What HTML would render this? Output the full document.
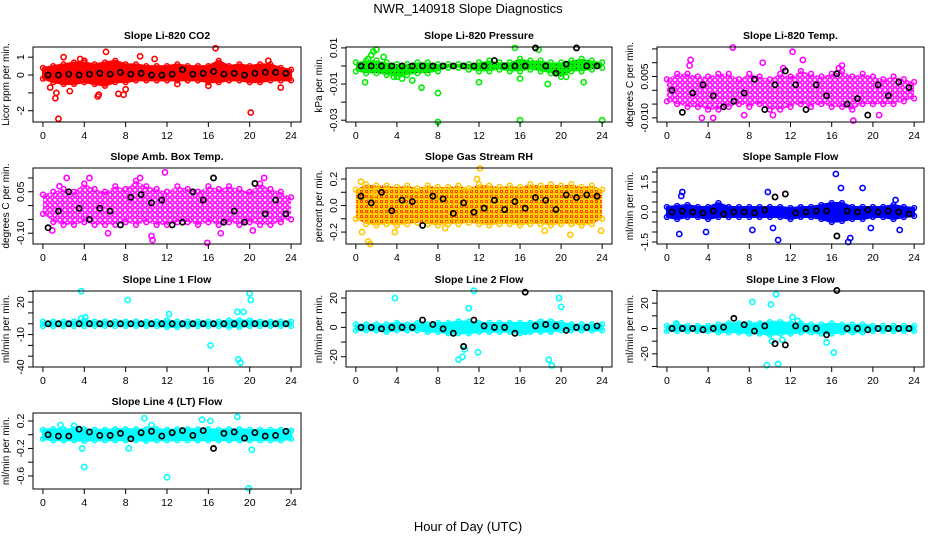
<!DOCTYPE html>
<html><head><meta charset="utf-8"><style>
html,body{margin:0;padding:0;background:#fff;}
svg{display:block;font-family:"Liberation Sans",sans-serif;}
</style></head><body>
<svg id="chart" width="936" height="540" viewBox="0 0 936 540">
<defs>
<pattern id="rhpat" width="5" height="5" patternUnits="userSpaceOnUse"><rect width="5" height="5" fill="#ffe000"/><circle cx="1.5" cy="1.5" r="1.2" fill="none" stroke="#ff3000" stroke-width="1"/><circle cx="4" cy="4" r="1.2" fill="none" stroke="#ffb000" stroke-width="1"/></pattern>
<pattern id="magpat" width="5" height="5" patternUnits="userSpaceOnUse"><rect width="5" height="5" fill="#fff"/><circle cx="2.5" cy="2.5" r="1.7" fill="none" stroke="#ff00ff" stroke-width="1.6"/></pattern>
<pattern id="grnpat" width="4" height="4" patternUnits="userSpaceOnUse"><rect width="4" height="4" fill="#00ee00"/><rect width="1" height="1" fill="#004400"/></pattern>
</defs>
<text x="468" y="13" font-size="13" text-anchor="middle">NWR_140918  Slope Diagnostics</text>
<text x="468" y="531" font-size="13" text-anchor="middle">Hour of Day (UTC)</text>
</svg>
<script>
const xTicks=[0,4,8,12,16,20,24];
const bandHours=[0,1,2,3,4,5,6,7,8,9,10,11,12,13,14,15,16,17,18,19,20,21,22,23,24];
const blackHours=[0.5,1.5,2.5,3.5,4.5,5.5,6.5,7.5,8.5,9.5,10.5,11.5,12.5,13.5,14.5,15.5,16.5,17.5,18.5,19.5,20.5,21.5,22.5,23.5];

const titles=["Slope Li-820 CO2","Slope Li-820 Pressure","Slope Li-820 Temp.","Slope Amb. Box Temp.","Slope Gas Stream RH","Slope Sample Flow","Slope Line 1 Flow","Slope Line 2 Flow","Slope Line 3 Flow","Slope Line 4 (LT) Flow"];
const yTitles=["Licor ppm per min.","kPa per min.","degrees C per min.","degrees C per min.","percent per min.","ml/min per min.","ml/min per min.","ml/min per min.","ml/min per min.","ml/min per min."];
const yDomains=[[-2.63,1.57],[-0.031,0.0105],[-0.0115,0.0157],[-0.139,0.136],[-0.29,0.283],[-1.6,2.2],[-40,30.3],[-27,24.8],[-30.4,29.6],[-0.79,0.316]];
const yTickVals=[[-2,-1,0,1],[-0.03,-0.02,-0.01,0,0.01],[-0.01,-0.005,0,0.005,0.01,0.015],[-0.1,-0.05,0,0.05,0.1],[-0.2,-0.1,0,0.1,0.2],[-1.5,-1,-0.5,0,0.5,1,1.5,2],[-40,-30,-20,-10,0,10,20,30],[-20,-10,0,10,20],[-30,-20,-10,0,10,20,30],[-0.6,-0.4,-0.2,0,0.2]];
const yTickLabels=[["-2","","0","1"],["-0.03","","-0.01","","0.01"],["-0.010","","","0.005","",""],["-0.10","","","0.05",""],["-0.2","","0.0","","0.2"],["-1.5","","","0.0","","","1.5",""],["-40","","","-10","","","20",""],["-20","","0","","20"],["","-20","","0","","20",""],["-0.6","","-0.2","","0.2"]];
const colors=["#ff0000","#00ee00","#ff00ff","#ff00ff","#ffb000","#0000ff","#00ffff","#00ffff","#00ffff","#00ffff"];
const fills=["#ff0000","url(#grnpat)","url(#magpat)","url(#magpat)","url(#rhpat)","#0000ff","#00ffff","#00ffff","#00ffff","#00ffff"];

const bandHi=[
[0.4,0.5,0.6,0.7,0.7,0.6,0.7,0.8,0.6,0.6,0.5,0.5,0.5,0.6,0.5,0.5,0.5,0.8,0.5,0.6,0.5,0.6,0.6,0.4,0.3],
[0.002,0.003,0.003,0.002,0.001,0.001,0.002,0.002,0.001,0.001,0.001,0.001,0.002,0.003,0.002,0.002,0.004,0.003,0.003,0.002,0.002,0.003,0.004,0.003,0.002],
[0.004,0.006,0.006,0.005,0.005,0.006,0.006,0.004,0.006,0.005,0.004,0.006,0.005,0.007,0.006,0.005,0.006,0.007,0.005,0.006,0.005,0.004,0.005,0.004,0.003],
[0.04,0.05,0.06,0.05,0.08,0.06,0.05,0.07,0.06,0.09,0.07,0.06,0.05,0.07,0.06,0.05,0.07,0.06,0.07,0.06,0.05,0.08,0.06,0.05,0.03],
[0.12,0.16,0.15,0.15,0.14,0.15,0.13,0.15,0.14,0.14,0.15,0.13,0.16,0.15,0.14,0.15,0.14,0.16,0.15,0.16,0.15,0.16,0.14,0.15,0.12],
[0.25,0.3,0.35,0.25,0.25,0.45,0.25,0.25,0.25,0.25,0.25,0.25,0.2,0.25,0.25,0.35,0.45,0.45,0.25,0.25,0.25,0.25,0.35,0.25,0.2],
[2,2,2,2,3,2,2,2,2,2,2,2,3,2,2,2,2,2,3,3,3,2,2,2,2],
[2,2,2,2,3,2,3,2,3,3,4,4,3,3,3,3,3,3,4,4,3,2,2,2,2],
[2,3,2,2,2,3,4,4,4,4,5,5,4,4,3,3,4,3,3,3,2,2,2,2,2],
[0.07,0.08,0.08,0.08,0.08,0.07,0.07,0.08,0.08,0.08,0.08,0.08,0.07,0.08,0.08,0.08,0.08,0.07,0.08,0.08,0.07,0.07,0.07,0.07,0.06]];
const bandLo=[
[-0.2,-0.4,-0.5,-0.5,-0.4,-0.5,-0.6,-0.4,-0.4,-0.3,-0.3,-0.3,-0.3,-0.3,-0.3,-0.3,-0.4,-0.4,-0.3,-0.3,-0.4,-0.4,-0.3,-0.3,-0.3],
[-0.003,-0.004,-0.004,-0.005,-0.006,-0.005,-0.004,-0.004,-0.003,-0.001,-0.001,-0.002,-0.003,-0.003,-0.002,-0.003,-0.003,-0.002,-0.003,-0.004,-0.006,-0.003,-0.003,-0.002,-0.001],
[-0.004,-0.005,-0.006,-0.006,-0.007,-0.007,-0.006,-0.005,-0.006,-0.005,-0.007,-0.007,-0.006,-0.005,-0.006,-0.005,-0.006,-0.006,-0.007,-0.005,-0.005,-0.005,-0.005,-0.004,-0.003],
[-0.03,-0.06,-0.07,-0.07,-0.06,-0.07,-0.07,-0.07,-0.06,-0.07,-0.06,-0.07,-0.07,-0.06,-0.06,-0.07,-0.06,-0.07,-0.06,-0.07,-0.06,-0.07,-0.07,-0.06,-0.05],
[-0.1,-0.14,-0.15,-0.14,-0.15,-0.14,-0.13,-0.14,-0.15,-0.14,-0.14,-0.13,-0.14,-0.15,-0.14,-0.14,-0.15,-0.14,-0.14,-0.15,-0.14,-0.14,-0.15,-0.14,-0.1],
[-0.25,-0.35,-0.25,-0.25,-0.35,-0.25,-0.25,-0.25,-0.25,-0.25,-0.25,-0.25,-0.35,-0.25,-0.25,-0.35,-0.5,-0.45,-0.35,-0.35,-0.25,-0.25,-0.35,-0.25,-0.2],
[-2,-2,-2,-2,-2,-2,-2,-2,-2,-2,-2,-2,-3,-3,-2,-2,-2,-2,-3,-3,-2,-2,-2,-2,-2],
[-2,-2,-2,-3,-2,-2,-2,-3,-3,-4,-4,-4,-3,-3,-3,-3,-4,-3,-3,-3,-2,-2,-2,-2,-2],
[-2,-2,-2,-2,-2,-3,-3,-3,-4,-4,-5,-4,-4,-3,-3,-4,-4,-3,-3,-3,-2,-2,-2,-2,-2],
[-0.06,-0.08,-0.08,-0.08,-0.09,-0.08,-0.08,-0.08,-0.08,-0.08,-0.09,-0.08,-0.08,-0.08,-0.08,-0.08,-0.08,-0.08,-0.08,-0.08,-0.08,-0.08,-0.08,-0.08,-0.06]];

const blackY=[
[0,0,0.05,0,0.05,0.1,0.05,0.15,0.05,0.1,0,0,0.05,0.3,0.05,0.1,0.2,0.05,0.1,0,0.1,0.15,0.15,0.1],
[0,0,0,0,0,0,0,0,0,0,0,0,0,0.003,0,0,0,0.01,0,-0.004,0.001,0.01,0,0],
[0,-0.008,-0.001,0.002,-0.002,-0.006,-0.004,-0.001,0.004,-0.007,0.002,0.007,0.002,-0.007,0.002,-0.002,0.006,-0.005,-0.003,-0.009,0.002,-0.002,0.003,0.001],
[-0.08,-0.02,0.05,-0.01,-0.05,-0.01,-0.02,-0.07,0.03,0.04,0.01,0.02,-0.07,-0.06,0.05,0.02,0.1,-0.06,-0.02,-0.06,0.08,-0.03,0.02,-0.03],
[0.07,0.02,0.1,-0.04,0.04,0.03,-0.15,0.07,0.05,-0.06,0.02,-0.05,-0.02,0.04,-0.03,0.03,-0.02,0.06,0.04,-0.03,0.08,0.06,0.08,0.07],
[0,0.05,0,-0.05,0.05,-0.1,0,0,-0.05,0.1,0.75,0.9,-0.05,0,0.05,0.05,-1.2,0.05,0,0.1,0,0.05,0,-0.1],
[0,0,0,0,0,0,0,0,0,0,0,0,0,0,0,0,0,0,0,0,0,0,0,0],
[0,0,-1,0,0,0,5,2,-1,-4,-13,5,1,0,0,-4,24,1,2,1,-2,0,0,1],
[0,0,0,-1,0,1,8,3,-2,2,-12,-13,2,0,0,-5,30,0,0,-1,0,0,0,0],
[0,-0.02,-0.02,0.08,0.04,-0.01,-0.01,0.02,-0.06,0.03,0.05,-0.02,0.03,0.06,-0.01,0.06,-0.2,0.02,0.04,-0.05,0.03,-0.02,-0.01,0.05]];

const outX=[
[1.2,1.5,1.3,2,2.6,5.4,5.3,6.1,7.3,7.8,9.4,16.7,16,20.1,21.8,0.7,4,8,23,13,3.6,10.8],
[1.7,2,1.5,0.9,2.7,6.4,8,8,16,24,15.5,17.8,16,18.7,22.2,12,20.5,3.7,4.5,5.5,1.2],
[6.4,12.2,2.3,9.3,13.2,17,3.4,18.1,4.5,7.5,2.2,11.3,16.7,10.3,20.6],
[2.3,11.8,10.5,10.6,15.9,6.3,9.4,4.5,0.9,17.2,21.4,20.3,1.6],
[0.5,0.6,1.2,1.4,3.8,8.7,18.4,23.9,20.9,12.1,1.8,11.8],
[1.5,1.2,3.8,8.3,9.8,10.8,10.3,16.4,17.6,17.8,16.9,19,22.2,19.8,22.6,1.4],
[3.7,8.2,16.2,18.9,19.1,20,20.1,12.2,18.8,19.4,3.7,4.1],
[3.8,11,11.5,10,10.4,19.8,20,18.8,19.1,11.9,16.5,10.6],
[8.3,10.1,10.6,9.7,10.8,10.2,11.2,16.2,15.5,12.2,12.7,0.9],
[4,3.8,8.3,12,19.9,20.2,18.8,9.8,16.2,15.4,1.7,10.5,3]];
const outY=[
[-1.3,-2.45,-1.0,1.0,-0.9,-1.1,-1.2,1.3,-1.05,-1.1,1.05,1.5,-0.6,-2.1,0.8,-0.7,0.8,-0.8,-0.7,-0.5,0.9,0.9],
[0.008,0.009,0.006,-0.009,0.005,-0.012,-0.015,-0.031,-0.03,-0.03,0.01,0.009,-0.007,-0.01,-0.009,-0.009,-0.006,-0.006,-0.007,-0.008,0.004],
[0.0155,0.014,0.011,0.01,0.011,0.009,-0.01,-0.011,-0.01,-0.009,0.009,0.008,0.008,-0.009,-0.009],
[0.1,0.12,-0.11,-0.125,-0.135,-0.1,0.1,0.1,-0.09,-0.1,0.1,-0.09,0.07],
[0.18,-0.2,-0.27,-0.29,-0.2,-0.17,-0.19,-0.19,-0.22,0.28,0.09,0.2],
[1.0,-1.1,-1.0,-0.9,1.0,-1.4,-0.8,1.9,-1.5,-1.3,1.2,1.2,0.6,-0.8,-0.9,0.8],
[30,22,-20,-33,-36,28,22,9,11,11,5,6],
[20,13,25,-22,-20,20,14,-22,-26,-17,-3,-15],
[21,19,27,-29,-28,-10,-9,-19,-11,9,6,4],
[-0.47,-0.2,-0.2,-0.62,-0.78,-0.22,0.26,0.24,0.2,0.22,0.14,0.14,0.13]];

const colBoxes=[[33,301],[346,612],[657,924]];
const rowBoxes=[[47,122],[168,244],[291,367],[413,489]];
const NS="http://www.w3.org/2000/svg";
const svg=document.getElementById('chart');
function mk(tag,attrs,parent){const e=document.createElementNS(NS,tag);for(const k in attrs)e.setAttribute(k,attrs[k]);(parent||svg).appendChild(e);return e;}

function drawPanel(i){
  const col=i%3,row=Math.floor(i/3);
  const [x0,x1]=colBoxes[col],[y0,y1]=rowBoxes[row];
  const [ymin,ymax]=yDomains[i];
  const sx=h=>x0+(h+0.96)/25.92*(x1-x0);
  const sy=v=>y1-(v-ymin)/(ymax-ymin)*(y1-y0);
  const g=mk('g',{});
  
  
  const t=mk('text',{x:(x0+x1)/2,y:y0-8,'font-size':10.5,'font-weight':'bold','text-anchor':'middle'},g);
  t.textContent=titles[i];
  
  
  const c=colors[i];
  const scattered=(i>=1&&i<=4);
  let pts=bandHours.map((h,k)=>sx(h)+','+sy(bandHi[i][k]));
  pts=pts.concat(bandHours.slice().reverse().map((h,k)=>sx(h)+','+sy(bandLo[i][bandHours.length-1-k])));
  const band=mk('polygon',{points:pts.join(' '),fill:fills[i],stroke:scattered?'none':c,'stroke-width':2,'stroke-linejoin':'round'},g);
  
  
  const ptColor=i===4?'#ffc800':c;
  bandHours.forEach((h,k)=>{
    [bandHi[i][k],bandLo[i][k]].forEach(v=>{
      const p=mk('circle',{cx:sx(h),cy:sy(v),r:2.4,fill:'none',stroke:ptColor,'stroke-width':1.5},g);
      
      
    });
  });
  outX[i].forEach((h,k)=>{
    const p=mk('circle',{cx:sx(h),cy:sy(outY[i][k]),r:2.6,fill:'none',stroke:ptColor,'stroke-width':1.6},g);
    
    
  });
  blackHours.forEach((h,k)=>{
    const p=mk('circle',{cx:sx(h),cy:sy(blackY[i][k]),r:2.6,fill:'none',stroke:'#000','stroke-width':1.7},g);
    
    
  });
  const box=mk('rect',{x:x0,y:y0,width:x1-x0,height:y1-y0,fill:'none',stroke:'#000','stroke-width':1},g);
  
  
  xTicks.forEach(v=>{
    mk('line',{x1:sx(v),x2:sx(v),y1:y1,y2:y1+5,stroke:'#000'},g);
    const l=mk('text',{x:sx(v),y:y1+17,'font-size':10.5,'text-anchor':'middle'},g);
    l.textContent=v;
    
    
  });
  yTickVals[i].forEach((v,k)=>{
    mk('line',{x1:x0-5,x2:x0,y1:sy(v),y2:sy(v),stroke:'#000'},g);
    const lab=yTickLabels[i][k];
    if(lab){
      const yy=sy(v);
      const l=mk('text',{x:x0-9,y:yy,'font-size':10.5,'text-anchor':'middle',transform:'rotate(-90 '+(x0-9)+' '+yy+')'},g);
      l.textContent=lab;
      
      
    }
  });
  const cy=(y0+y1)/2,tx=x0-24;
  const yt=mk('text',{x:tx,y:cy,'font-size':10,'text-anchor':'middle',transform:'rotate(-90 '+tx+' '+cy+')'},g);
  yt.textContent=yTitles[i];
  
  
}
for(let i=0;i<10;i++)drawPanel(i);
</script>
</body></html>
